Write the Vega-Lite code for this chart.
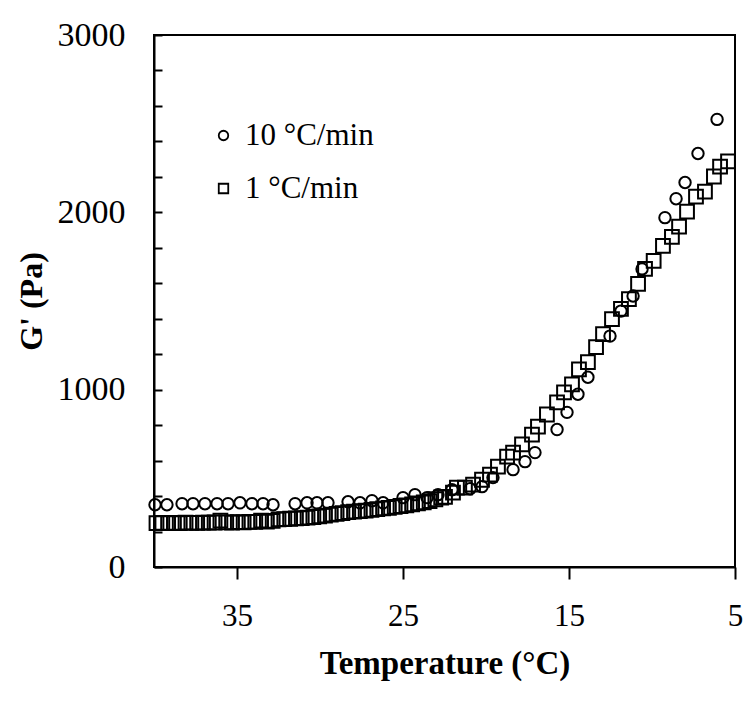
{
  "$schema": "https://vega.github.io/schema/vega-lite/v6.json",
  "width": 581,
  "height": 532,
  "autosize": {"type": "none"},
  "padding": {"left": 154, "top": 35, "right": 15, "bottom": 134},
  "background": "white",
  "config": {
    "view": {"stroke": "black", "strokeWidth": 2},
    "font": "Liberation Serif",
    "axis": {"grid": false, "domainColor": "black", "domainWidth": 2, "tickColor": "black", "tickWidth": 2, "labelColor": "black", "titleColor": "black", "labelFont": "Liberation Serif", "titleFont": "Liberation Serif"}
  },
  "datasets": {
    "pts": [
      {"rate": "10 °C/min", "T": 39.94, "G": 351},
      {"rate": "10 °C/min", "T": 39.22, "G": 351},
      {"rate": "10 °C/min", "T": 38.31, "G": 357},
      {"rate": "10 °C/min", "T": 37.65, "G": 357},
      {"rate": "10 °C/min", "T": 36.93, "G": 357},
      {"rate": "10 °C/min", "T": 36.2, "G": 357},
      {"rate": "10 °C/min", "T": 35.54, "G": 357},
      {"rate": "10 °C/min", "T": 34.82, "G": 362},
      {"rate": "10 °C/min", "T": 34.1, "G": 357},
      {"rate": "10 °C/min", "T": 33.43, "G": 357},
      {"rate": "10 °C/min", "T": 32.83, "G": 351},
      {"rate": "10 °C/min", "T": 31.5, "G": 357},
      {"rate": "10 °C/min", "T": 30.78, "G": 362},
      {"rate": "10 °C/min", "T": 30.18, "G": 362},
      {"rate": "10 °C/min", "T": 29.52, "G": 362},
      {"rate": "10 °C/min", "T": 28.31, "G": 368},
      {"rate": "10 °C/min", "T": 27.59, "G": 362},
      {"rate": "10 °C/min", "T": 26.87, "G": 374},
      {"rate": "10 °C/min", "T": 26.2, "G": 362},
      {"rate": "10 °C/min", "T": 25.0, "G": 391},
      {"rate": "10 °C/min", "T": 24.28, "G": 408},
      {"rate": "10 °C/min", "T": 23.55, "G": 391},
      {"rate": "10 °C/min", "T": 22.89, "G": 408},
      {"rate": "10 °C/min", "T": 22.05, "G": 436},
      {"rate": "10 °C/min", "T": 20.96, "G": 441},
      {"rate": "10 °C/min", "T": 20.24, "G": 453},
      {"rate": "10 °C/min", "T": 19.58, "G": 504},
      {"rate": "10 °C/min", "T": 18.37, "G": 549},
      {"rate": "10 °C/min", "T": 17.65, "G": 594},
      {"rate": "10 °C/min", "T": 17.05, "G": 645},
      {"rate": "10 °C/min", "T": 15.72, "G": 775},
      {"rate": "10 °C/min", "T": 15.12, "G": 872},
      {"rate": "10 °C/min", "T": 14.46, "G": 974},
      {"rate": "10 °C/min", "T": 13.86, "G": 1070},
      {"rate": "10 °C/min", "T": 12.53, "G": 1302},
      {"rate": "10 °C/min", "T": 11.87, "G": 1443},
      {"rate": "10 °C/min", "T": 11.14, "G": 1528},
      {"rate": "10 °C/min", "T": 10.6, "G": 1681},
      {"rate": "10 °C/min", "T": 9.22, "G": 1970},
      {"rate": "10 °C/min", "T": 8.55, "G": 2077},
      {"rate": "10 °C/min", "T": 8.01, "G": 2168},
      {"rate": "10 °C/min", "T": 7.23, "G": 2332},
      {"rate": "10 °C/min", "T": 6.08, "G": 2524},
      {"rate": "1 °C/min", "T": 39.85, "G": 248},
      {"rate": "1 °C/min", "T": 39.5, "G": 249},
      {"rate": "1 °C/min", "T": 39.15, "G": 248},
      {"rate": "1 °C/min", "T": 38.8, "G": 249},
      {"rate": "1 °C/min", "T": 38.45, "G": 248},
      {"rate": "1 °C/min", "T": 38.1, "G": 250},
      {"rate": "1 °C/min", "T": 37.75, "G": 249},
      {"rate": "1 °C/min", "T": 37.4, "G": 249},
      {"rate": "1 °C/min", "T": 37.05, "G": 250},
      {"rate": "1 °C/min", "T": 36.7, "G": 250},
      {"rate": "1 °C/min", "T": 36.35, "G": 251},
      {"rate": "1 °C/min", "T": 36.0, "G": 262},
      {"rate": "1 °C/min", "T": 35.65, "G": 252},
      {"rate": "1 °C/min", "T": 35.3, "G": 251},
      {"rate": "1 °C/min", "T": 34.95, "G": 253},
      {"rate": "1 °C/min", "T": 34.6, "G": 252},
      {"rate": "1 °C/min", "T": 34.25, "G": 255},
      {"rate": "1 °C/min", "T": 33.9, "G": 254},
      {"rate": "1 °C/min", "T": 33.55, "G": 262},
      {"rate": "1 °C/min", "T": 33.2, "G": 256},
      {"rate": "1 °C/min", "T": 32.85, "G": 260},
      {"rate": "1 °C/min", "T": 32.5, "G": 268},
      {"rate": "1 °C/min", "T": 32.15, "G": 270},
      {"rate": "1 °C/min", "T": 31.8, "G": 272},
      {"rate": "1 °C/min", "T": 31.45, "G": 274},
      {"rate": "1 °C/min", "T": 31.1, "G": 276},
      {"rate": "1 °C/min", "T": 30.75, "G": 279},
      {"rate": "1 °C/min", "T": 30.4, "G": 282},
      {"rate": "1 °C/min", "T": 30.05, "G": 286},
      {"rate": "1 °C/min", "T": 29.7, "G": 290},
      {"rate": "1 °C/min", "T": 29.35, "G": 295},
      {"rate": "1 °C/min", "T": 29.0, "G": 299},
      {"rate": "1 °C/min", "T": 28.65, "G": 304},
      {"rate": "1 °C/min", "T": 28.3, "G": 309},
      {"rate": "1 °C/min", "T": 27.95, "G": 312},
      {"rate": "1 °C/min", "T": 27.6, "G": 315},
      {"rate": "1 °C/min", "T": 27.25, "G": 318},
      {"rate": "1 °C/min", "T": 26.9, "G": 322},
      {"rate": "1 °C/min", "T": 26.55, "G": 326},
      {"rate": "1 °C/min", "T": 26.2, "G": 330},
      {"rate": "1 °C/min", "T": 25.85, "G": 334},
      {"rate": "1 °C/min", "T": 25.5, "G": 339},
      {"rate": "1 °C/min", "T": 25.15, "G": 344},
      {"rate": "1 °C/min", "T": 24.8, "G": 348},
      {"rate": "1 °C/min", "T": 24.45, "G": 353},
      {"rate": "1 °C/min", "T": 24.1, "G": 359},
      {"rate": "1 °C/min", "T": 23.75, "G": 364},
      {"rate": "1 °C/min", "T": 23.4, "G": 371},
      {"rate": "1 °C/min", "T": 23.05, "G": 382},
      {"rate": "1 °C/min", "T": 22.7, "G": 392},
      {"rate": "1 °C/min", "T": 22.47, "G": 396},
      {"rate": "1 °C/min", "T": 21.99, "G": 419},
      {"rate": "1 °C/min", "T": 21.75, "G": 447},
      {"rate": "1 °C/min", "T": 21.27, "G": 447},
      {"rate": "1 °C/min", "T": 20.78, "G": 464},
      {"rate": "1 °C/min", "T": 20.24, "G": 492},
      {"rate": "1 °C/min", "T": 19.76, "G": 521},
      {"rate": "1 °C/min", "T": 19.28, "G": 566},
      {"rate": "1 °C/min", "T": 18.73, "G": 623},
      {"rate": "1 °C/min", "T": 18.37, "G": 645},
      {"rate": "1 °C/min", "T": 17.83, "G": 691},
      {"rate": "1 °C/min", "T": 17.23, "G": 747},
      {"rate": "1 °C/min", "T": 16.87, "G": 792},
      {"rate": "1 °C/min", "T": 16.33, "G": 860},
      {"rate": "1 °C/min", "T": 15.72, "G": 928},
      {"rate": "1 °C/min", "T": 15.3, "G": 985},
      {"rate": "1 °C/min", "T": 14.82, "G": 1030},
      {"rate": "1 °C/min", "T": 14.4, "G": 1115},
      {"rate": "1 °C/min", "T": 13.86, "G": 1155},
      {"rate": "1 °C/min", "T": 13.37, "G": 1240},
      {"rate": "1 °C/min", "T": 12.95, "G": 1313},
      {"rate": "1 °C/min", "T": 12.41, "G": 1398},
      {"rate": "1 °C/min", "T": 11.87, "G": 1455},
      {"rate": "1 °C/min", "T": 11.39, "G": 1511},
      {"rate": "1 °C/min", "T": 10.84, "G": 1596},
      {"rate": "1 °C/min", "T": 10.42, "G": 1681},
      {"rate": "1 °C/min", "T": 9.9, "G": 1726},
      {"rate": "1 °C/min", "T": 9.34, "G": 1811},
      {"rate": "1 °C/min", "T": 8.8, "G": 1862},
      {"rate": "1 °C/min", "T": 8.37, "G": 1919},
      {"rate": "1 °C/min", "T": 7.89, "G": 2004},
      {"rate": "1 °C/min", "T": 7.35, "G": 2089},
      {"rate": "1 °C/min", "T": 6.81, "G": 2117},
      {"rate": "1 °C/min", "T": 6.27, "G": 2202},
      {"rate": "1 °C/min", "T": 5.9, "G": 2258},
      {"rate": "1 °C/min", "T": 5.42, "G": 2287}
    ]
  },
  "data": {"name": "pts"},
  "encoding": {
    "x": {
      "field": "T", "type": "quantitative",
      "scale": {"domain": [5, 40], "reverse": true, "nice": false, "zero": false},
      "axis": {"values": [35, 25, 15, 5], "title": "Temperature (°C)", "tickSize": 12, "labelPadding": 22, "labelFontSize": 31, "titleFontSize": 33, "titleFontWeight": "bold", "titlePadding": 16, "labelFlush": false}
    },
    "y": {
      "field": "G", "type": "quantitative",
      "scale": {"domain": [0, 3000], "nice": false},
      "axis": {"values": [0, 200, 400, 600, 800, 1000, 1200, 1400, 1600, 1800, 2000, 2200, 2400, 2600, 2800, 3000], "labelExpr": "datum.value % 1000 === 0 ? datum.value : ''", "title": "G' (Pa)", "tickSize": -8, "labelPadding": 37, "labelFontSize": 34, "titleFontSize": 32, "titleFontWeight": "bold", "titlePadding": 9, "labelFlush": false}
    },
    "shape": {
      "field": "rate", "type": "nominal",
      "scale": {"domain": ["10 °C/min", "1 °C/min"], "range": ["circle", "square"]},
      "legend": {"title": null, "orient": "none", "legendX": 54, "legendY": 85, "padding": 0, "symbolSize": 90, "symbolStrokeColor": "black", "symbolStrokeWidth": 1.8, "symbolFillColor": "transparent", "labelFontSize": 31, "labelFont": "Liberation Serif", "labelColor": "black", "labelOffset": 6, "rowPadding": 21}
    }
  },
  "layer": [
    {
      "transform": [{"filter": "datum.rate === '1 °C/min'"}],
      "mark": {"type": "point", "filled": false, "color": "black", "strokeWidth": 2, "size": 190, "opacity": 1}
    },
    {
      "transform": [{"filter": "datum.rate === '10 °C/min'"}],
      "mark": {"type": "point", "filled": false, "color": "black", "strokeWidth": 2, "size": 130, "opacity": 1}
    }
  ]
}
